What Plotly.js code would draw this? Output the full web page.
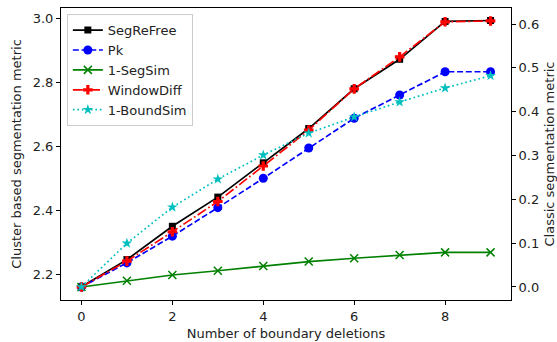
<!DOCTYPE html>
<html><head><meta charset="utf-8">
<script src="https://cdn.plot.ly/plotly-3.0.1.min.js"></script>
<style>html,body{margin:0;padding:0;background:#fff;}#c{width:557px;height:342px;}</style>
</head><body><div id="c"></div>
<script>
const deletions = [0,1,2,3,4,5,6,7,8,9];
const segReFree = [2.1625,2.247,2.351,2.442,2.549,2.656,2.780,2.872,2.990,2.993];
const pk = [0,0.055,0.116,0.181,0.248,0.317,0.385,0.438,0.491,0.491];
const segSim = [0,0.0144,0.0274,0.037,0.048,0.058,0.0655,0.073,0.079,0.079];
const windowDiff = [0,0.059,0.126,0.195,0.276,0.358,0.452,0.525,0.605,0.607];
const boundSim = [0,0.0997,0.182,0.246,0.301,0.351,0.388,0.422,0.454,0.482];

const F = 'DejaVu Sans, sans-serif';
const FS = 13;
const traces = [
  {x:deletions,y:segReFree,name:'SegReFree',yaxis:'y',mode:'lines+markers',
   line:{color:'#000000',width:1.7},marker:{symbol:'square',size:7,color:'#000000'}},
  {x:deletions,y:pk,name:'Pk',yaxis:'y2',mode:'lines+markers',
   line:{color:'#0000ff',width:1.7,dash:'6px,2.7px'},marker:{symbol:'circle',size:9,color:'#0000ff'}},
  {x:deletions,y:segSim,name:'1-SegSim',yaxis:'y2',mode:'lines+markers',
   line:{color:'#008000',width:1.7},marker:{symbol:'x-thin',size:8,line:{color:'#008000',width:1.5}}},
  {x:deletions,y:windowDiff,name:'WindowDiff',yaxis:'y2',mode:'lines+markers',
   line:{color:'#ff0000',width:1.7,dash:'10px,2.7px,1.7px,2.7px'},marker:{symbol:'cross',size:8,color:'#ff0000'}},
  {x:deletions,y:boundSim,name:'1-BoundSim',yaxis:'y2',mode:'lines+markers',
   line:{color:'#00bfbf',width:1.7,dash:'1.7px,2.8px'},marker:{symbol:'star',size:8,color:'#00bfbf'}}
];
const axBase = {showgrid:false,zeroline:false,showline:true,linecolor:'#000',linewidth:1,
  ticks:'outside',ticklen:4,tickcolor:'#000',tickfont:{family:F,size:FS,color:'#222'}};
const layout = {
  width:557,height:342,margin:{l:61,r:46,t:8,b:42},
  paper_bgcolor:'#fff',plot_bgcolor:'#fff',font:{family:F,size:FS,color:'#222'},
  showlegend:true,
  legend:{x:0.013,y:0.979,xanchor:'left',yanchor:'top',bgcolor:'rgba(255,255,255,0.8)',
    bordercolor:'#cccccc',borderwidth:1,font:{family:F,size:FS,color:'#222'}},
  xaxis:Object.assign({},axBase,{range:[-0.45,9.45],tickvals:[0,2,4,6,8],mirror:true,
    title:{text:'Number of boundary deletions',font:{family:F,size:FS},standoff:6}}),
  yaxis:Object.assign({},axBase,{range:[2.121,3.032],tickvals:[2.2,2.4,2.6,2.8,3.0],tickformat:'.1f',
    title:{text:'Cluster based segmentation metric',font:{family:F,size:FS},standoff:8}}),
  yaxis2:Object.assign({},axBase,{range:[-0.0297,0.6365],overlaying:'y',side:'right',
    tickvals:[0,0.1,0.2,0.3,0.4,0.5,0.6],tickformat:'.1f',
    title:{text:'Classic segmentation metric',font:{family:F,size:FS},standoff:7}})
};
Plotly.newPlot('c',traces,layout,{displayModeBar:false,staticPlot:true});
</script></body></html>
